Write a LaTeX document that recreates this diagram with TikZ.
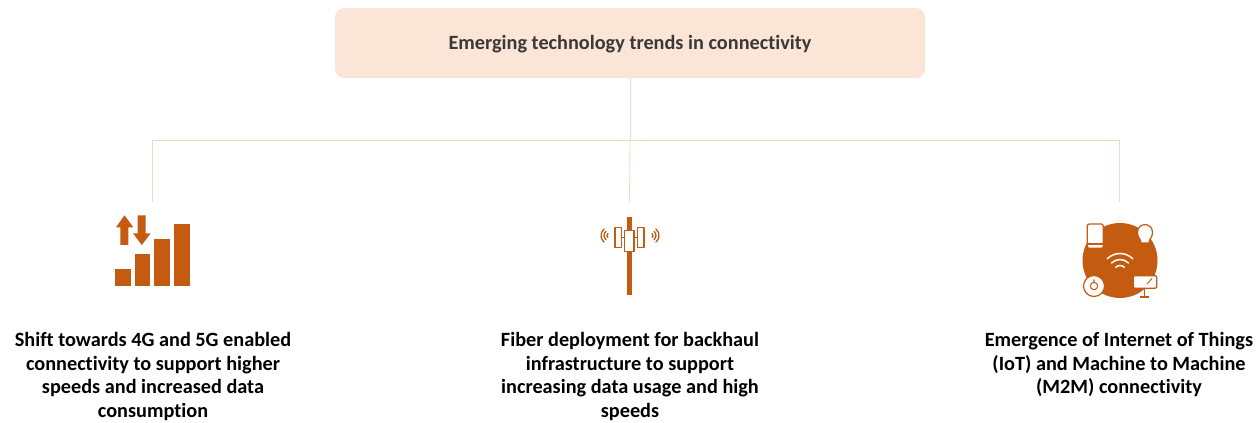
\documentclass[tikz,border=0pt]{standalone}
\usepackage{fontspec}
\setmainfont[Ligatures=NoCommon]{Carlito}
\definecolor{rust}{HTML}{C55A11}
\definecolor{peach}{HTML}{FBE5D6}
\definecolor{wire}{HTML}{F1D9C3}
\definecolor{titleink}{HTML}{3B3838}
\tikzset{
  titlebox/.style={fill=peach,rounded corners=7pt,minimum width=442.5pt,minimum height=52.5pt,inner sep=0pt,text=titleink,font=\fontsize{15.2}{18}\selectfont\bfseries},
  caption/.style={anchor=north,align=center,inner sep=0pt,text=black,font=\fontsize{15.2}{17.8}\selectfont\bfseries},
  wireline/.style={draw=wire,line width=0.65pt},
  bar/.style={fill=rust,draw=none},
  rustline/.style={draw=rust,line width=0.9pt,fill=white,line join=round},
  arcs/.style={draw=rust,line width=1pt,line cap=round},
  warcs/.style={draw=white,line width=1.15pt,line cap=round}
}
\begin{document}
\begin{tikzpicture}[x=0.75pt,y=-0.75pt]
\useasboundingbox[fill=white] (0,0) rectangle (1260,423);
\node[titlebox] (title) at (630,43) {\raisebox{-1.3pt}[10pt][3pt]{Emerging technology trends in connectivity}};
\coordinate (hub) at (630,140);
\coordinate (busL) at (152,140);
\coordinate (busR) at (1119,140);
\coordinate (dropL) at (152,202);
\coordinate (dropM) at (629.5,202);
\coordinate (dropR) at (1119,202);
\draw[wireline] (title.south) -- (hub);
\draw[wireline] (dropL) -- (busL) -- (busR) -- (dropR);
\draw[wireline] (hub) -- (dropM);
% signal icon
\fill[bar] (115.3,269) rectangle (130.7,286);
\fill[bar] (134.7,254.3) rectangle (150,286);
\fill[bar] (154.3,239.3) rectangle (169.7,286);
\fill[bar] (174.3,224) rectangle (189.7,286);
\fill[bar] (124.5,215.3) -- (133.3,227.3) -- (128.3,227.3) -- (128.3,245) -- (120.3,245) -- (120.3,227.3) -- (116,227.3) -- cycle;
\fill[bar] (137.7,215.3) -- (145.7,215.3) -- (145.7,233.3) -- (150.7,233.3) -- (141.8,245) -- (133,233.3) -- (137.7,233.3) -- cycle;
% tower icon
\fill[bar] (627,217.3) rectangle (632,295);
\draw[draw=rust,line width=0.9pt] (621.7,237.5) -- (624.7,237.5) (634,237.5) -- (637.7,237.5);
\draw[rustline] (615,227.7) rectangle (621.7,247.7);
\draw[rustline] (637.7,227.7) rectangle (644,247.7);
\draw[rustline] (624.7,230.7) rectangle (634,251.7);
\foreach \r in {2.5,5.5,8.5}{
  \draw[arcs] ({609.5-\r*cos(50)},{235.5-\r*sin(50)}) arc[start angle=-130,end angle=-230,radius=\r];
  \draw[arcs] ({650.5+\r*cos(50)},{235.5-\r*sin(50)}) arc[start angle=-50,end angle=50,radius=\r];
}
% IoT icon
\fill[bar] (1120,260.5) circle[radius=37.5];
\draw[rustline,rounded corners=1.5pt] (1087.3,224) rectangle (1103.3,248.3);
\draw[draw=rust,line width=0.9pt] (1087.3,244) -- (1103.3,244);
\draw[rustline] (1141,243) .. controls (1141,238.5) and (1137.5,238) .. (1137.5,232.5) .. controls (1137.5,222) and (1152.5,222) .. (1152.5,232.5) .. controls (1152.5,238) and (1149,238.5) .. (1149,243) -- cycle;
\draw[draw=rust,line width=0.9pt] (1142,245.5) -- (1148,245.5) (1143,248) -- (1147,248);
\draw[rustline] (1094,286) circle[radius=10.5];
\draw[draw=rust,line width=0.8pt] (1094,286) circle[radius=3.7] (1094,279.5) -- (1094,282.3);
\draw[draw=rust,line width=0.8pt] (1144.5,288.3) -- (1144.5,297) (1140,297) -- (1149,297);
\draw[rustline,rounded corners=1pt] (1133.3,275.7) rectangle (1156.7,288.3);
\draw[draw=rust,line width=0.7pt] (1147,284) -- (1152,278.5);
\foreach \r in {6,12,18}{
  \draw[warcs] ({1120-\r*cos(45)},{271.5-\r*sin(45)}) arc[start angle=-135,end angle=-45,radius=\r];
}
% captions
\node[caption] (capL) at (153,332) {Shift towards 4G and 5G enabled\\connectivity to support higher\\speeds and increased data\\consumption};
\node[caption] (capM) at (630,332) {Fiber deployment for backhaul\\infrastructure to support\\increasing data usage and high\\speeds};
\node[caption] (capR) at (1119,332) {Emergence of Internet of Things\\(IoT) and Machine to Machine\\(M2M) connectivity};
\end{tikzpicture}
\end{document}
